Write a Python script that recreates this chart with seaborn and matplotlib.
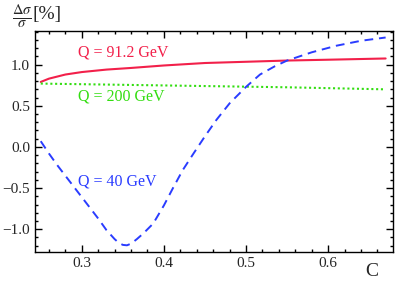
import matplotlib
matplotlib.use("Agg")
import matplotlib.pyplot as plt
import seaborn as sns
import pandas as pd
from matplotlib.ticker import MultipleLocator

# curves
c_91 = [0.25, 0.26, 0.28, 0.30, 0.33, 0.36, 0.40, 0.45, 0.50, 0.55, 0.60, 0.67]
d_91 = [0.79, 0.83, 0.88, 0.91, 0.94, 0.96, 0.99, 1.02, 1.035, 1.05, 1.06, 1.075]

c_200 = [0.25, 0.35, 0.45, 0.55, 0.67]
d_200 = [0.77, 0.755, 0.74, 0.725, 0.70]

c_40 = [0.25, 0.26, 0.27, 0.28, 0.29, 0.30, 0.31, 0.32, 0.33, 0.34, 0.345,
        0.35, 0.355, 0.36, 0.367, 0.375, 0.387, 0.40, 0.411, 0.423, 0.436,
        0.45, 0.464, 0.48, 0.50, 0.517, 0.535, 0.55, 0.58, 0.61, 0.64, 0.67]
d_40 = [0.07, -0.08, -0.22, -0.35, -0.48, -0.61, -0.74, -0.87, -1.01, -1.12, -1.165,
        -1.19, -1.195, -1.175, -1.12, -1.05, -0.93, -0.71, -0.50, -0.28, -0.08,
        0.13, 0.33, 0.53, 0.73, 0.88, 0.98, 1.05, 1.15, 1.23, 1.29, 1.33]

red = "#f2204a"
green = "#33dd11"
blue = "#2a3cff"

sns.set_style("ticks")
plt.rcParams["font.family"] = ["Liberation Serif", "DejaVu Serif"]
plt.rcParams["mathtext.fontset"] = "stix"

fig = plt.figure(figsize=(3.95, 2.81), dpi=100)
ax = fig.add_axes([0.0886, 0.103, 0.9064, 0.787])

sns.lineplot(data=pd.DataFrame({"C": c_91, "d": d_91}), x="C", y="d", ax=ax,
             color=red, lw=1.5)
sns.lineplot(data=pd.DataFrame({"C": c_200, "d": d_200}), x="C", y="d", ax=ax,
             color=green, lw=1.5, ls=(0, (1, 1.3)))
sns.lineplot(data=pd.DataFrame({"C": c_40, "d": d_40}), x="C", y="d", ax=ax,
             color=blue, lw=1.4, ls=(0, (4.5, 3)))

ax.set_xlim(0.243, 0.679)
ax.set_ylim(-1.277, 1.41)
ax.set_xlabel("")
ax.set_ylabel("")

ax.xaxis.set_major_locator(MultipleLocator(0.1))
ax.xaxis.set_minor_locator(MultipleLocator(0.02))
ax.yaxis.set_major_locator(MultipleLocator(0.5))
ax.yaxis.set_minor_locator(MultipleLocator(0.1))
ax.tick_params(which="both", direction="in", top=True, right=True,
               labelsize=11, width=1, color="black",
               labelfontfamily="Liberation Serif")
ax.tick_params(which="major", length=5)
ax.tick_params(which="minor", length=2.5)
for s in ax.spines.values():
    s.set_linewidth(1)
    s.set_color("black")

ax.text(0.295, 1.145, "Q = 91.2 GeV", color=red, fontsize=11.5, va="center")
ax.text(0.295, 0.613, "Q = 200 GeV", color=green, fontsize=11.5, va="center")
ax.text(0.295, -0.423, "Q = 40 GeV", color=blue, fontsize=11.5, va="center")

fig.text(0.030, 0.99, r"$\frac{\Delta\sigma}{\sigma}$", fontsize=15,
         ha="left", va="top")
fig.text(0.083, 0.948, "[%]", fontsize=14, ha="left", va="center")
fig.text(0.942, 0.005, "C", fontsize=14, ha="center", va="bottom")

fig.savefig("out.png", dpi=100)
